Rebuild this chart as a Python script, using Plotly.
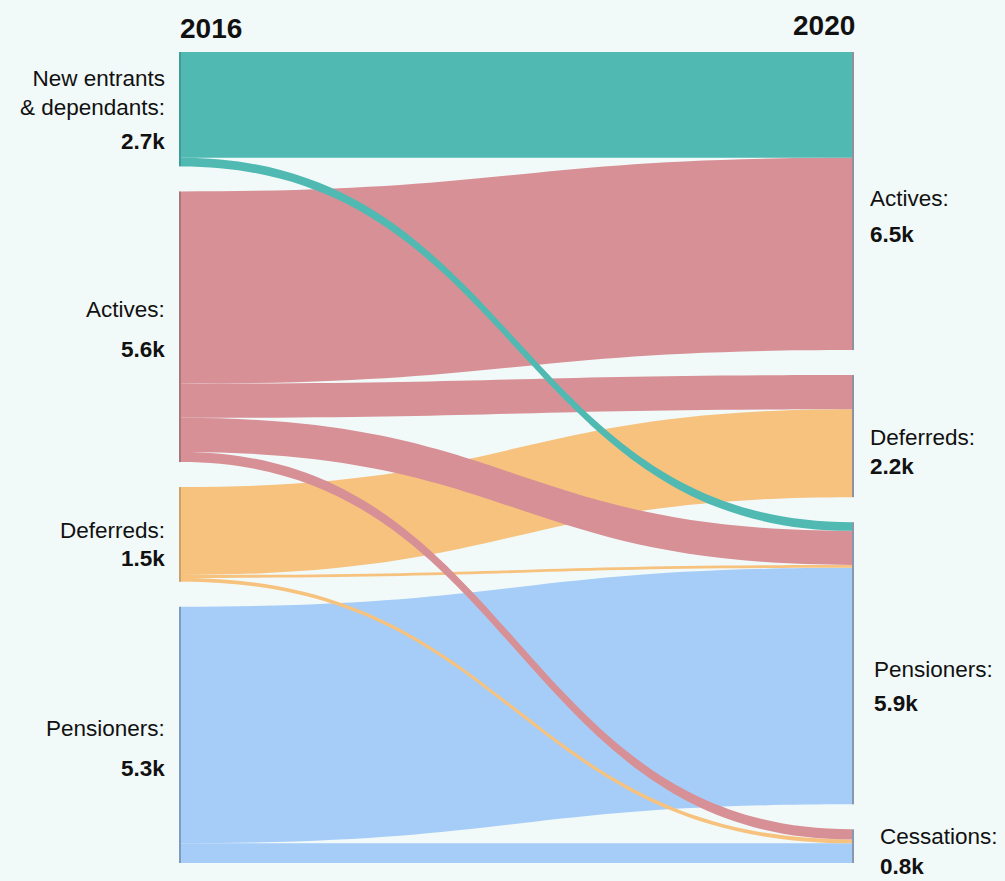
import plotly.graph_objects as go

# ---------------- data ----------------
year_from = "2016"
year_to = "2020"

left_names = ["New entrants<br>& dependants:", "Actives:", "Deferreds:", "Pensioners:"]
left_values = ["2.7k", "5.6k", "1.5k", "5.3k"]
right_names = ["Actives:", "Deferreds:", "Pensioners:", "Cessations:"]
right_values = ["6.5k", "2.2k", "5.9k", "0.8k"]

# node indices: 0..3 = 2016 groups, 4..7 = 2020 groups
# flows (thousands), read from band widths
link_source = [3, 3, 2, 2, 2, 1, 1, 1, 1, 0, 0]
link_target = [6, 7, 5, 6, 7, 4, 5, 6, 7, 4, 6]
link_value = [4.92, 0.41, 1.83, 0.06, 0.08, 4.00, 0.71, 0.71, 0.21, 2.20, 0.18]

# ---------------- styles ----------------
W, H = 1005, 881
BG = "#f2f9f9"
group_colors = ["#4fb9b2", "#d79096", "#f6c27e", "#a6cdf8"]
node_colors = ["#3f9c96", "#a8777c", "#c9a36f", "#7f9cc0",
               "#8f929e", "#8f929e", "#8a98ad", "#8a98ad"]
FONT = "Liberation Sans, Arial, sans-serif"
NAME_SIZE = 22.5
VALUE_SIZE = 22.5

x_left_px, x_right_px = 179, 854
y_top_px, y_bot_px = 52, 863

fig = go.Figure(go.Sankey(
    domain=dict(x=[x_left_px / W, x_right_px / W],
                y=[1 - y_bot_px / H, 1 - y_top_px / H]),
    arrangement="fixed",
    node=dict(
        label=[n.replace("<br>", " ") for n in left_names] + right_names,
        color=node_colors,
        thickness=2,
        pad=25,
        line=dict(width=0),
    ),
    link=dict(
        source=link_source,
        target=link_target,
        value=link_value,
        color=[group_colors[s] for s in link_source],
    ),
    textfont=dict(color="rgba(0,0,0,0)", size=1),
))

# ---------------- text annotations ----------------
annotations = []
def px_y(y):
    return 1 - y / H

annotations.append(dict(text=f"<b>{year_from}</b>", x=x_left_px / W, y=px_y(28),
                        xanchor="left", yanchor="middle", font=dict(size=28)))
annotations.append(dict(text=f"<b>{year_to}</b>", x=(x_right_px + 2) / W, y=px_y(25),
                        xanchor="right", yanchor="middle", font=dict(size=28)))

left_name_y = [93, 310, 530, 728]
left_value_y = [142, 350, 558, 768]
right_name_y = [199, 437, 669, 836]
right_value_y = [234, 467, 703, 866]
right_x = [869, 869, 873, 879]

for name, val, yn, yv in zip(left_names, left_values, left_name_y, left_value_y):
    annotations.append(dict(text=name, x=166 / W, y=px_y(yn), xanchor="right",
                            yanchor="middle", align="right", font=dict(size=NAME_SIZE)))
    annotations.append(dict(text=f"<b>{val}</b>", x=166 / W, y=px_y(yv), xanchor="right",
                            yanchor="middle", align="right", font=dict(size=VALUE_SIZE)))
for name, val, yn, yv, xr in zip(right_names, right_values, right_name_y, right_value_y, right_x):
    annotations.append(dict(text=name, x=xr / W, y=px_y(yn), xanchor="left",
                            yanchor="middle", align="left", font=dict(size=NAME_SIZE)))
    annotations.append(dict(text=f"<b>{val}</b>", x=xr / W, y=px_y(yv), xanchor="left",
                            yanchor="middle", align="left", font=dict(size=VALUE_SIZE)))

for a in annotations:
    a.update(xref="paper", yref="paper", showarrow=False, borderpad=0)
    a["font"].update(family=FONT, color="#111111")

fig.update_layout(
    width=W, height=H,
    margin=dict(l=0, r=0, t=0, b=0),
    paper_bgcolor=BG, plot_bgcolor=BG,
    font=dict(family=FONT),
    annotations=annotations,
)

fig.write_html("out.html", config={"displayModeBar": False})
